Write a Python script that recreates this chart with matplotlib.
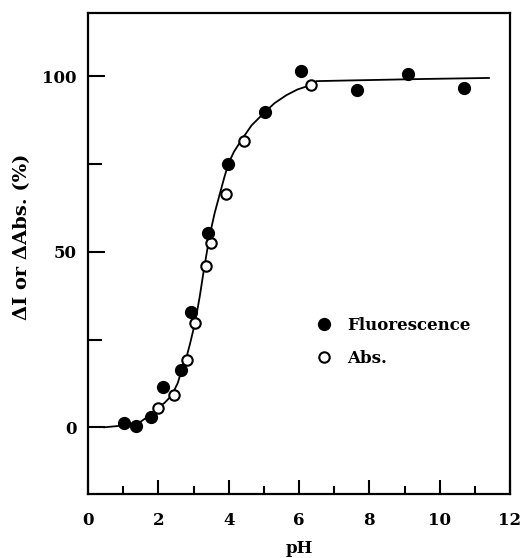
import matplotlib
matplotlib.use("Agg")
import matplotlib.pyplot as plt
from matplotlib.ticker import MultipleLocator

plt.rcParams['font.family'] = ['DejaVu Serif']
plt.rcParams['font.weight'] = 'bold'

# ---------------------------
# DATA
# ---------------------------
fluo_ph = [1.02, 1.36, 1.78, 2.13, 2.64, 2.93, 3.41, 3.98, 5.03, 6.05, 7.64, 9.09, 10.68]
fluo_val = [1.1, 0.3, 2.8, 11.4, 16.2, 32.7, 55.3, 75.0, 89.7, 101.4, 96.0, 100.6, 96.6]

abs_ph = [1.99, 2.45, 2.81, 3.04, 3.34, 3.51, 3.91, 4.43, 6.34]
abs_val = [5.4, 9.1, 19.1, 29.6, 45.9, 52.4, 66.4, 81.5, 97.4]

# fitted curve
curve_ph = [0.46, 1.0, 1.2, 1.48, 1.7, 1.95, 2.18, 2.38, 2.55, 2.66, 2.80, 2.90, 3.00,
            3.09, 3.18, 3.28, 3.38, 3.47, 3.60, 3.75, 3.87, 3.99, 4.15, 4.36, 4.65,
            5.03, 5.30, 5.64, 5.95, 6.31, 6.5, 7.0, 8.0, 9.5, 11.4]
curve_val = [0.0, 0.5, 0.9, 1.5, 3.0, 5.3, 7.0, 9.1, 12.6, 16.2, 20.0, 23.8, 28.0,
             32.4, 37.5, 44.0, 50.0, 55.2, 61.0, 66.6, 71.0, 75.1, 78.5, 81.8, 86.0,
             89.8, 92.3, 94.6, 96.2, 97.4, 98.6, 98.7, 98.9, 99.2, 99.5]

# ---------------------------
# PLOT
# ---------------------------
fig = plt.figure(figsize=(5.21, 5.58), dpi=100)
ax = fig.add_axes([0.169, 0.1147, 0.810, 0.862])

ax.plot(curve_ph, curve_val, color='black', lw=1.3, zorder=1)
ax.plot(fluo_ph, fluo_val, 'o', color='black', ms=8.5, zorder=3, label='Fluorescence')
ax.plot(abs_ph, abs_val, 'o', mfc='white', mec='black', mew=1.5, ms=7.5, zorder=2, label='Abs.')

ax.set_xlim(0, 12)
ax.set_ylim(-19, 118)

ax.xaxis.set_major_locator(MultipleLocator(2))
ax.xaxis.set_minor_locator(MultipleLocator(1))
ax.set_yticks([0, 50, 100])
ax.set_yticks([25, 75], minor=True)

ax.tick_params(which='both', direction='in', top=False, right=False, width=1.5,
               labelsize=12)
ax.tick_params(axis='x', which='major', length=10, pad=13)
ax.tick_params(axis='x', which='minor', length=6)
ax.tick_params(axis='y', which='major', length=12, pad=8)
ax.tick_params(axis='y', which='minor', length=10)

for s in ax.spines.values():
    s.set_linewidth(1.6)

ax.set_xlabel("pH", fontsize=12, fontweight='bold')
ax.xaxis.set_label_coords(0.5, -0.095)
ax.set_ylabel("ΔI or ΔAbs. (%)", fontsize=14, fontweight='bold')
ax.yaxis.set_label_coords(-0.135, 0.534)

ax.legend(loc='upper left', bbox_to_anchor=(0.5, 0.40), frameon=False,
          handletextpad=0.8, labelspacing=1.0, fontsize=12, handlelength=1.2)

plt.savefig("out.png", dpi=100)
